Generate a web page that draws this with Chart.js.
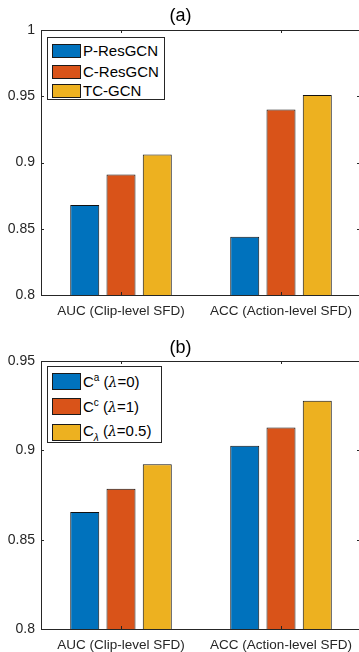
<!DOCTYPE html>
<html>
<head>
<meta charset="utf-8">
<script src="https://cdn.jsdelivr.net/npm/chart.js@4"></script>
<style>
  html, body { margin: 0; padding: 0; overflow: hidden; background: #fff; }
  #wrap { position: relative; width: 359px; height: 652px; overflow: hidden; }
  canvas { position: absolute; left: 0; }
  .legend {
    position: absolute; background: #fff; border: 1px solid #262626;
    font-family: "Liberation Sans", Arial, sans-serif; font-size: 15px; color: #000;
  }
  .legend .row { position: absolute; left: 4px; display: flex; align-items: center; white-space: nowrap; }
  .legend .sw { width: 27px; border: 1px solid #1a1a1a; margin-right: 2px; }
  .legend sup { font-size: 10px; vertical-align: 6px; }
  .legend sub { font-size: 10px; vertical-align: -5px; font-style: italic; }
  .legend i { font-family: "DejaVu Serif", serif; font-size: 14px; }
</style>
</head>
<body>
<div id="wrap">
<canvas id="chartA" width="364" height="330" style="top:0"></canvas>
<canvas id="chartB" width="364" height="322" style="top:330px"></canvas>
<div class="legend" id="legendA" style="left:47px;top:37px;width:116px;height:61px"></div>
<div class="legend" id="legendB" style="left:47px;top:366px;width:113px;height:75px"></div>
</div>
<script>
// ---------------------------Data------------------------------------------------
const categories = ["AUC (Clip-level SFD)", "ACC (Action-level SFD)"];
const yTicksA = [0.8, 0.85, 0.9, 0.95, 1];
const yTicksB = [0.8, 0.85, 0.9, 0.95];

const namesA = ["P-ResGCN", "C-ResGCN", "TC-GCN"];
const pResGCN = [0.868, 0.844];
const cResGCN = [0.891, 0.940];
const tcGCN = [0.906, 0.951];

const namesB = ["C<sup>a</sup> (<i>λ</i>=0)", "C<sup>c</sup> (<i>λ</i>=1)", "C<sub>λ</sub> (<i>λ</i>=0.5)"];
const labelsB = ["Ca (λ=0)", "Cc (λ=1)", "Cλ (λ=0.5)"];
const cA = [0.8655, 0.9025];
const cC = [0.8785, 0.9128];
const cLambda = [0.8922, 0.9277];

const colors = ["#0072BD", "#D95319", "#EDB120"];
// ----------------------------------------------------------------------------------------------

const axisColor = "#262626";
const font = "'Liberation Sans', Arial, sans-serif";

// box around the axes plus MATLAB style inward ticks
const boxTicks = {
  id: "boxTicks",
  afterDraw(chart) {
    const { ctx, chartArea: a, scales } = chart;
    ctx.save();
    ctx.strokeStyle = axisColor;
    ctx.lineWidth = 1;
    ctx.strokeRect(Math.round(a.left) + 0.5, Math.round(a.top) + 0.5,
      Math.round(a.right - a.left), Math.round(a.bottom - a.top));
    ctx.beginPath();
    scales.y.ticks.forEach((t, i) => {
      const y = Math.round(scales.y.getPixelForTick(i)) + 0.5;
      ctx.moveTo(a.left, y); ctx.lineTo(a.left + 3, y);
      ctx.moveTo(a.right, y); ctx.lineTo(a.right - 4, y);
    });
    scales.x.ticks.forEach((t, i) => {
      const x = Math.round(scales.x.getPixelForTick(i)) + 0.5;
      ctx.moveTo(x, a.bottom); ctx.lineTo(x, a.bottom - 3);
      ctx.moveTo(x, a.top); ctx.lineTo(x, a.top + 3);
    });
    ctx.stroke();
    ctx.restore();
  }
};

function makeChart(id, title, titlePad, names, series, ticks, yMax, xHeight) {
  const ctx = document.getElementById(id).getContext("2d");
  return new Chart(ctx, {
    type: "bar",
    data: {
      labels: categories,
      datasets: series.map((s, i) => ({
        label: names[i],
        data: s,
        backgroundColor: colors[i],
        borderColor: "#111",
        borderWidth: 1,
        borderSkipped: false,
        categoryPercentage: 0.68,
        barPercentage: 0.8,
      })),
    },
    options: {
      responsive: false,
      animation: false,
      layout: { padding: { left: 0, right: 3, top: 0, bottom: 0 } },
      plugins: {
        legend: { display: false },
        tooltip: { enabled: false },
        title: {
          display: true,
          text: title,
          color: "#000",
          font: { family: font, size: 18, weight: "normal" },
          padding: titlePad,
        },
      },
      scales: {
        x: {
          grid: { display: false, drawTicks: false },
          border: { display: false },
          ticks: { color: axisColor, font: { family: font, size: 13.5 }, padding: 8, maxRotation: 0 },
          afterFit: (s) => { s.height = xHeight; s.paddingLeft = 0; s.paddingRight = 0; },
        },
        y: {
          min: 0.8,
          max: yMax,
          afterBuildTicks: (s) => { s.ticks = ticks.map((v) => ({ value: v })); },
          grid: { display: false, drawTicks: false },
          border: { display: false },
          ticks: {
            color: axisColor,
            font: { family: font, size: 14 },
            padding: 6,
            callback: (v) => String(+v.toFixed(2)),
          },
          afterFit: (s) => { s.width = 41; },
        },
      },
    },
    plugins: [boxTicks],
  });
}

makeChart("chartA", "(a)", { top: 5.7, bottom: 2.7 }, namesA, [pResGCN, cResGCN, tcGCN], yTicksA, 1, 35);
makeChart("chartB", "(b)", { top: 7.7, bottom: 1.7 }, labelsB, [cA, cC, cLambda], yTicksB, 0.95, 23);

// legends drawn as boxes in the upper left corner of the axes
function fillLegend(id, names, rowTops, swH) {
  const el = document.getElementById(id);
  names.forEach((n, i) => {
    const row = document.createElement("div");
    row.className = "row";
    row.style.top = rowTops[i] + "px";
    row.innerHTML = '<div class="sw" style="height:' + (swH - 2) + 'px;background:' + colors[i] + '"></div><span>' + n + "</span>";
    el.appendChild(row);
  });
}
fillLegend("legendA", namesA, [4, 25, 44], 14);
fillLegend("legendB", namesB, [5, 30, 55], 17);
</script>
</body>
</html>
